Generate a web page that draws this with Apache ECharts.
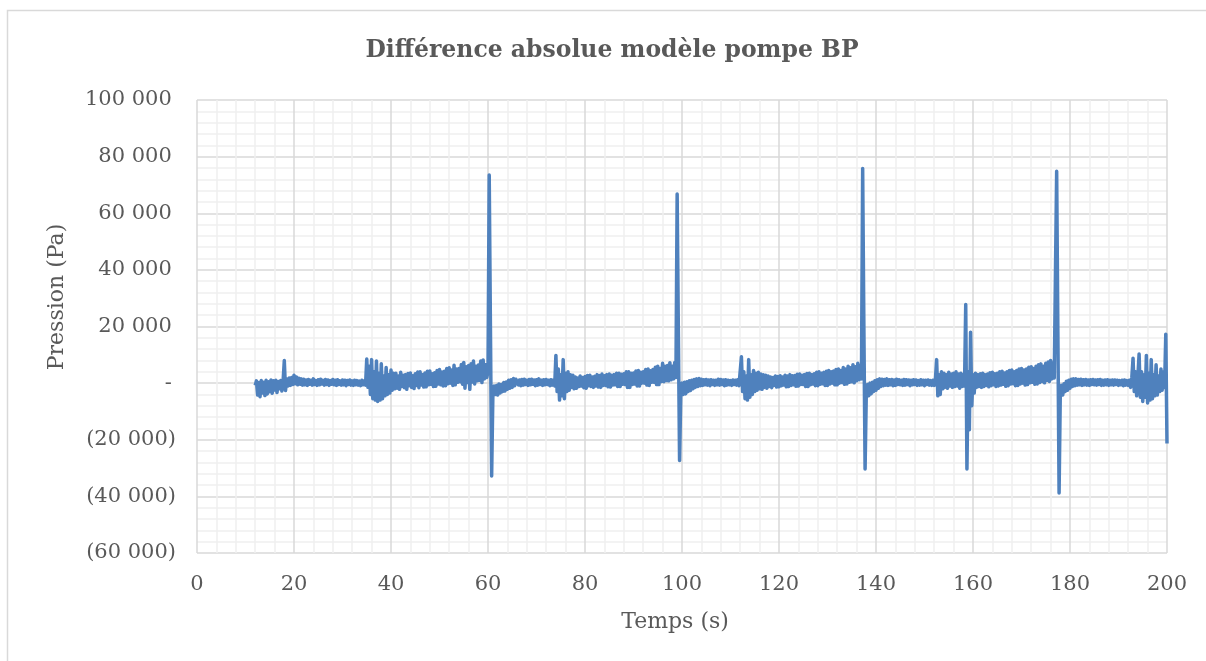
<!DOCTYPE html>
<html>
<head>
<meta charset="utf-8">
<script src="https://cdn.jsdelivr.net/npm/echarts@6/dist/echarts.min.js"></script>
<style>
html,body{margin:0;padding:0;background:#fff;}
#chart{width:1206px;height:661px;}
</style>
</head>
<body>
<div id="chart"></div>
<script>
// Pression (Pa), sampled every 0.25 s; each segment starts at the time given next to it.
const sampleStep = 0.25;
const segA = [ -800,800,-4200,200,  -4800,900,-3500,300,  -4400,1000,-3800,500,  -3000,1100,-3600,800,  -2400,1000,-3300,600,  -2000,900,-2800,500 ];
const segB = [ 8000,-2600,1500,-1000,  1800,-800,2000,-500,  2800,-200,2200,-600,  1700,-400,1500,-700,  1400,-600,1100,-800,  1300,-400,1000,-700,  1500,-500,900,-800,  1200,-600,1400,-300,  1000,-700,1300,-500,  1100,-800,900,-400,  1300,-600,1000,-800,  1200,-500,800,-700,  1100,-600,1000,-900,  900,-500,1100,-700,  800,-800,1000,-600,  900,-700,700,-900,  1000,-600,800,-700 ];
const burst1 = [ 8500,-1500,6000,-4000,  8300,-5500,4000,-6000,  7800,-6500,3500,-6000,  6800,-5500,2500,-4500,  5500,-4000,3000,-3500,  4600,-2500,3500,-2000 ];
const cycle1 = [ 3500,-1800,2500,-2200,  3800,-1200,2800,-1600,  3000,-2200,3400,-900,  3600,-1500,2600,-1900,  3300,-800,3900,-1600,  4000,-700,3000,-1400,  3600,-1300,4200,-600,  4300,-400,3300,-1200,  3700,-1100,4500,-300,  4800,-600,3900,-1000,  4200,-900,5200,-200,  5400,0,4600,-800,  6300,-600,5000,300,  5200,500,6600,-400,  7300,-1800,5800,200,  6200,-2200,6800,400,  7800,-300,6000,800,  6400,1000,7800,200,  8200,1500,6500,2000 ];
const spike1 = [ 4000,73500,20000,-32800,  -4500,-1000,-4000,-800,  -4200,-300,-3500,-500,  -3000,200,-2800,400,  -2200,1000,-1800,1200,  -1500,1600,-900,1400 ];
const calm1 = [ 1500,-600,1100,-900,  1300,-700,1400,-500,  1000,-800,1300,-600,  1400,-400,1100,-900,  1200,-700,1500,-500,  1000,-800,1200,-600,  1300,-500,1000,-900,  1200,-700,1100,-1000 ];
const burst2 = [ 9800,-3000,5000,-6000,  3000,-4500,8300,-5500,  3500,-3000,4000,-2500,  3000,-1500,2800,-2000 ];
const cycle2 = [ 2200,-1800,1800,-1200,  2500,-1000,2000,-1600,  2300,-1800,2700,-900,  2800,-1200,2200,-1500,  2400,-1000,3000,-1400,  2700,-1500,3200,-800,  2600,-800,3000,-1300,  3200,-1400,2800,-700,  3000,-600,3500,-1200,  3500,-1200,3100,-400,  3300,-500,4000,-1500,  4000,-1500,3500,-500,  3600,-300,4300,-1000,  4500,-1000,3800,0,  4000,0,4800,-700,  5000,-800,4400,300,  4800,300,5600,-500,  6000,-500,5200,600,  7000,500,6000,900,  6200,800,7200,1200,  6000,1500,7300,2000 ];
const spike2 = [ 66800,18000,-27300,-3500,  0,-4000,300,-3800,  500,-3000,800,-2600,  1000,-2000,1300,-1500,  1500,-1200,1600,-900 ];
const calm2 = [ 1400,-800,1200,-600,  1300,-700,1100,-900,  1200,-500,1000,-800,  1000,-600,1400,-700,  1300,-500,1100,-900,  1200,-700,1000,-600,  900,-800,1100,-500,  1000,-700,1200,-900 ];
const burst3 = [ -1000,9300,-3000,4000,  -5500,2500,-6000,8300,  -5000,3000,-4000,4500,  -3000,3500,-2500,3800,  -2000,3200,-2200,3000,  -1500,2800,-1800,2500 ];
const cycle3 = [ -1200,2200,-1600,2000,  -800,2500,-1400,2300,  -1300,2600,-900,2200,  -700,2800,-1300,2500,  -1200,3000,-800,2600,  -600,2700,-1100,3100,  -1000,3200,-500,2800,  -500,3000,-1200,3400,  -1200,3500,-600,3000,  -300,3300,-900,3800,  -900,4000,-400,3500,  -200,3800,-800,4200,  -800,4500,-300,4000,  0,4300,-600,4800,  -600,5000,0,4500,  200,5500,-400,5000,  -300,6000,300,5400,  500,6500,100,5800,  800,7000,1200,6200 ];
const spike3 = [ 1500,75800,20000,-30300,  -3500,-500,-4500,0,  -3800,300,-3000,800,  -2500,1200,-1800,1500 ];
const calm3 = [ -1200,1400,-900,1300,  -700,1500,-800,1200,  -600,1300,-900,1100,  -800,1400,-500,1200,  -600,1000,-800,1300,  -700,1200,-500,1100,  -900,1000,-600,1200,  -500,1100,-800,900,  -700,1200,-600,1000,  -900,1000,-500,1100,  -700,900,-800,1000 ];
const burst4 = [ -800,1200,8300,-4500,  3000,-4000,4000,-2000,  3500,-1500,3000,-1800,  3800,-1000,3200,-1500,  3500,-1200,4000,-1000,  3200,-1800,3500,-1200 ];
const spike4 = [ 3000,-1000,27800,-30300,  4000,-16500,18000,-8000,  3000,-3500,3500,-1500,  3000,-1200,3300,-1500 ];
const cycle4 = [ 3500,-1200,3000,-800,  3200,-1300,3700,-900,  3800,-600,3300,-1200,  3500,-1000,4000,-700,  4200,-400,3600,-1100,  4000,-900,4500,-300,  4600,-200,4000,-900,  4500,-800,5000,-300,  5200,0,4600,-700,  5000,-500,5600,100,  5800,300,5200,-400,  6000,-300,6500,200,  6800,600,6000,100,  7000,1000,7500,600,  8000,1500,7200,1800 ];
const spike5 = [ 2000,74800,18000,-38800,  -3500,-800,-4200,-200,  -3000,700,-2500,1000,  -1800,1400,-1200,1500 ];
const calm4 = [ -900,1500,-700,1300,  -600,1400,-800,1200,  -600,1300,-700,1100,  -800,1200,-500,1300,  -600,1100,-700,1200,  -500,1300,-800,1000,  -700,1100,-600,1200,  -800,1000,-600,1100,  -700,1100,-500,1000,  -800,900,-600,1000,  -900,1100,-700,900 ];
const burst5 = [ -800,1000,-1500,2000,  8800,-3000,4000,-4500,  2500,10300,-5000,4000,  -6500,3000,-5000,9800,  -7000,3500,-6000,8300,  -5500,3000,-4500,6500,  -4200,2500,-3000,5000,  -2500,4000,-1500,17300,  -21300 ];

// segment start times (s)
const segments = [
  [12, segA], [18, segB], [35, burst1], [41, cycle1], [60, spike1], [66, calm1],
  [74, burst2], [78, cycle2], [99, spike2], [104, calm2], [112, burst3], [118, cycle3],
  [137, spike3], [141, calm3], [152, burst4], [158, spike4], [162, cycle4], [177, spike5],
  [181, calm4], [192, burst5]
];

const titleText = 'Différence absolue modèle pompe BP';
const xName = 'Temps (s)';
const yName = 'Pression (Pa)';

const seriesData = [];
segments.forEach(([t0, vals]) => vals.forEach((v, i) => seriesData.push([t0 + i * sampleStep, v])));

function fmtPa(v) {
  if (v === 0) return '-\u2009';
  const s = Math.abs(v).toString().replace(/\B(?=(\d{3})+(?!\d))/g, ' ');
  return v < 0 ? '(' + s + ')' : s + '\u2009';
}

const chart = echarts.init(document.getElementById('chart'), null, {renderer: 'canvas'});
const FONT = 'DejaVu Serif';
chart.setOption({
  animation: false,
  backgroundColor: '#ffffff',
  title: {
    text: titleText,
    left: 607, top: 34, textAlign: 'center',
    textStyle: {fontFamily: FONT, fontWeight: 'bold', fontSize: 23.5, color: '#595959'}
  },
  grid: {left: 197, right: 39, top: 100, bottom: 108},
  xAxis: {
    type: 'value', min: 0, max: 200, interval: 20,
    axisLine: {show: false}, axisTick: {show: false},
    axisLabel: {fontFamily: FONT, fontSize: 21, color: '#595959', margin: 21},
    splitLine: {show: true, lineStyle: {color: '#d9d9d9', width: 1.5}},
    minorTick: {show: false, splitNumber: 5},
    minorSplitLine: {show: true, lineStyle: {color: '#f0f0f0', width: 1.5}}
  },
  yAxis: {
    type: 'value', min: -60000, max: 100000, interval: 20000,
    axisLine: {show: false}, axisTick: {show: false},
    axisLabel: {fontFamily: FONT, fontSize: 21, color: '#595959', margin: 21, formatter: fmtPa},
    splitLine: {show: true, lineStyle: {color: '#d9d9d9', width: 1.5}},
    minorTick: {show: false, splitNumber: 5},
    minorSplitLine: {show: true, lineStyle: {color: '#f0f0f0', width: 1.5}}
  },
  graphic: [
    {type: 'rect', shape: {x: 7.5, y: 10.5, width: 1230, height: 680}, style: {fill: 'none', stroke: '#d9d9d9', lineWidth: 1.5}, silent: true},
    {type: 'text', x: 675, y: 622, style: {text: xName, font: '22px "DejaVu Serif"', fill: '#595959', textAlign: 'center', textVerticalAlign: 'middle'}},
    {type: 'text', x: 57, y: 297, rotation: Math.PI / 2, style: {text: yName, font: '22px "DejaVu Serif"', fill: '#595959', textAlign: 'center', textVerticalAlign: 'middle'}}
  ],
  series: [{
    type: 'line', data: seriesData, showSymbol: false, symbol: 'none',
    sampling: null, smooth: false,
    lineStyle: {color: '#4F81BD', width: 3.5, join: 'round'},
    itemStyle: {color: '#4F81BD'}
  }]
});
</script>
</body>
</html>
